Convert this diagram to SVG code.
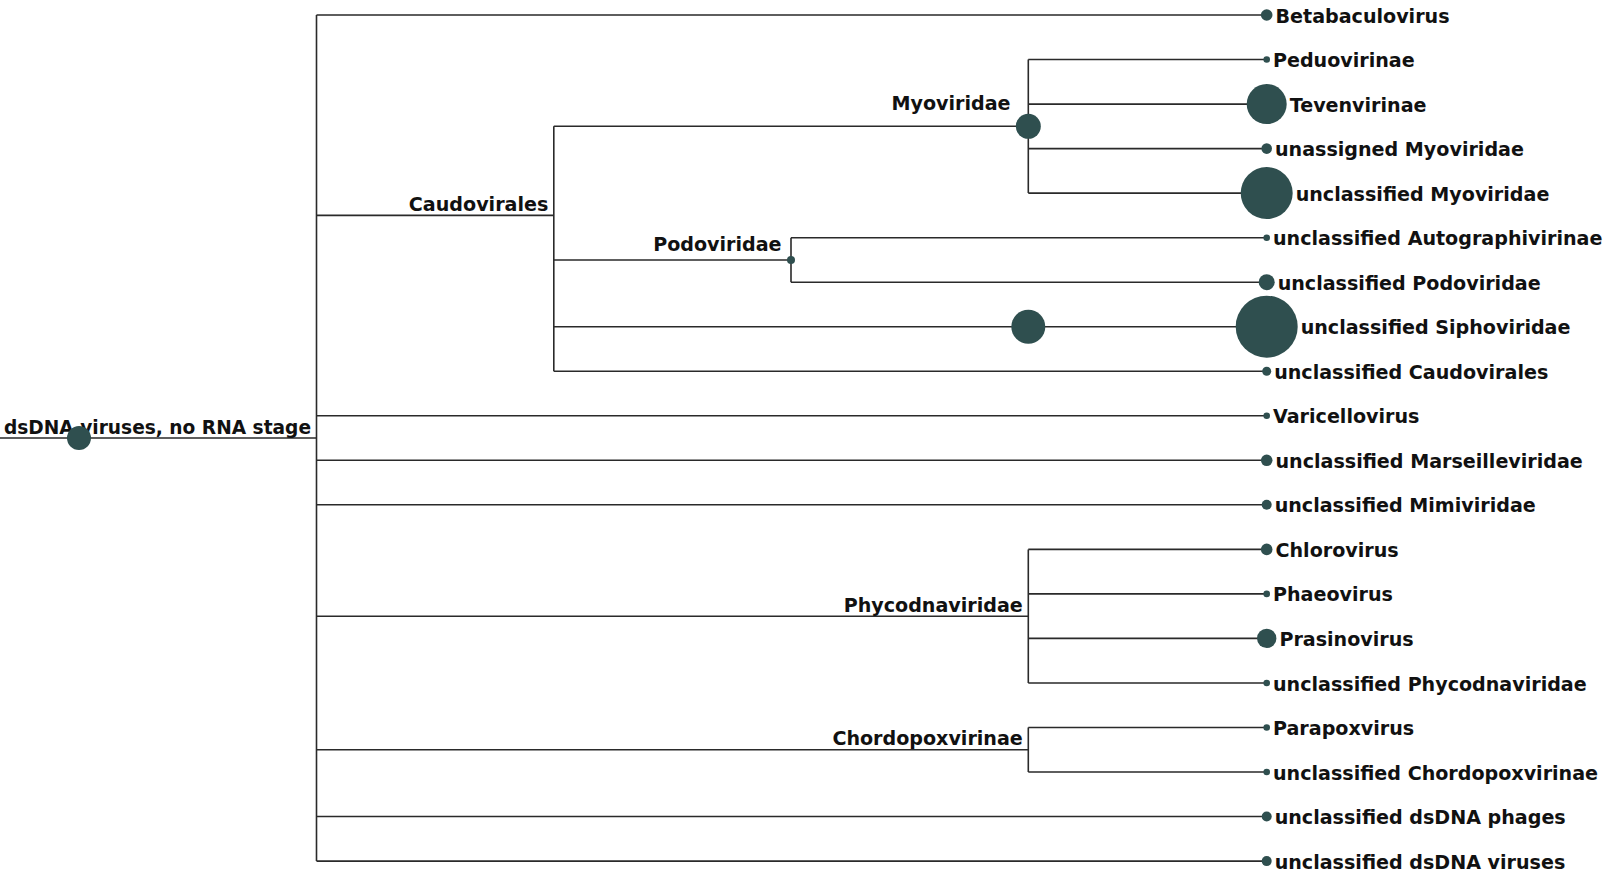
<svg xmlns="http://www.w3.org/2000/svg" width="1607" height="876" viewBox="0 0 1607 876">
<style>
text{font-family:"DejaVu Sans","Verdana",sans-serif;font-weight:bold;font-size:19.1px;fill:#111}
.in{text-anchor:end}
.rt{font-size:18.6px}
.dot{fill:#2f4f4f}
#connectors path{stroke:#2a2a2a;stroke-width:1.6;fill:none}
</style>
<rect width="1607" height="876" fill="#fff"/>
<g id="connectors">
<path d="M0,438H316.5M316.5,15V861.1"/>
<path d="M316.5,15H1266.7M316.5,215.4H553.8M316.5,415.8H1266.7M316.5,460.3H1266.7M316.5,504.8H1266.7M316.5,616.2H1028.3M316.5,749.8H1028.3M316.5,816.5H1266.7M316.5,861.1H1266.7"/>
<path d="M553.8,126.3V371.2M553.8,126.3H1028.3M553.8,260H791M553.8,326.7H1266.7M553.8,371.2H1266.7"/>
<path d="M1028.3,59.5V193.1M1028.3,59.5H1266.7M1028.3,104.1H1266.7M1028.3,148.6H1266.7M1028.3,193.1H1266.7"/>
<path d="M791,237.7V282.2M791,237.7H1266.7M791,282.2H1266.7"/>
<path d="M1028.3,549.4V683M1028.3,549.4H1266.7M1028.3,593.9H1266.7M1028.3,638.4H1266.7M1028.3,683H1266.7"/>
<path d="M1028.3,727.5V772M1028.3,727.5H1266.7M1028.3,772H1266.7"/>
</g>
<g id="root"><text class="in rt" x="311" y="433.5">dsDNA viruses, no RNA stage</text><circle class="dot" cx="79" cy="438" r="12"/></g>
<g id="caudovirales"><text class="in" x="548.3" y="211">Caudovirales</text></g>
<g id="myoviridae"><circle class="dot" cx="1028.3" cy="126.3" r="12.5"/><text class="in" x="1010.5" y="110">Myoviridae</text></g>
<g id="podoviridae"><circle class="dot" cx="791" cy="260" r="4"/><text class="in" x="781.5" y="251">Podoviridae</text></g>
<g id="siphoviridae"><circle class="dot" cx="1028.3" cy="326.7" r="17"/></g>
<g id="phycodnaviridae"><text class="in" x="1022.8" y="611.7">Phycodnaviridae</text></g>
<g id="chordopoxvirinae"><text class="in" x="1022.8" y="745.3">Chordopoxvirinae</text></g>
<g id="betabaculovirus"><circle class="dot" cx="1266.7" cy="15" r="5.8"/><text x="1275.5" y="22.5">Betabaculovirus</text></g>
<g id="peduovirinae"><circle class="dot" cx="1266.7" cy="59.5" r="3.3"/><text x="1273" y="67">Peduovirinae</text></g>
<g id="tevenvirinae"><circle class="dot" cx="1266.7" cy="104.1" r="20"/><text x="1289.7" y="111.6">Tevenvirinae</text></g>
<g id="unassigned-myoviridae"><circle class="dot" cx="1266.7" cy="148.6" r="5.3"/><text x="1275" y="156.1">unassigned Myoviridae</text></g>
<g id="unclassified-myoviridae"><circle class="dot" cx="1266.7" cy="193.1" r="26"/><text x="1295.7" y="200.6">unclassified Myoviridae</text></g>
<g id="unclassified-autographivirinae"><circle class="dot" cx="1266.7" cy="237.7" r="3.3"/><text x="1273" y="245.2">unclassified Autographivirinae</text></g>
<g id="unclassified-podoviridae"><circle class="dot" cx="1266.7" cy="282.2" r="8"/><text x="1277.7" y="289.7">unclassified Podoviridae</text></g>
<g id="unclassified-siphoviridae"><circle class="dot" cx="1266.7" cy="326.7" r="31"/><text x="1300.7" y="334.2">unclassified Siphoviridae</text></g>
<g id="unclassified-caudovirales"><circle class="dot" cx="1266.7" cy="371.2" r="4.5"/><text x="1274.2" y="378.7">unclassified Caudovirales</text></g>
<g id="varicellovirus"><circle class="dot" cx="1266.7" cy="415.8" r="3.3"/><text x="1273" y="423.3">Varicellovirus</text></g>
<g id="unclassified-marseilleviridae"><circle class="dot" cx="1266.7" cy="460.3" r="5.8"/><text x="1275.5" y="467.8">unclassified Marseilleviridae</text></g>
<g id="unclassified-mimiviridae"><circle class="dot" cx="1266.7" cy="504.8" r="5"/><text x="1274.7" y="512.3">unclassified Mimiviridae</text></g>
<g id="chlorovirus"><circle class="dot" cx="1266.7" cy="549.4" r="5.8"/><text x="1275.5" y="556.9">Chlorovirus</text></g>
<g id="phaeovirus"><circle class="dot" cx="1266.7" cy="593.9" r="3.3"/><text x="1273" y="601.4">Phaeovirus</text></g>
<g id="prasinovirus"><circle class="dot" cx="1266.7" cy="638.4" r="9.7"/><text x="1279.4" y="645.9">Prasinovirus</text></g>
<g id="unclassified-phycodnaviridae"><circle class="dot" cx="1266.7" cy="683" r="3.3"/><text x="1273" y="690.5">unclassified Phycodnaviridae</text></g>
<g id="parapoxvirus"><circle class="dot" cx="1266.7" cy="727.5" r="3.3"/><text x="1273" y="735">Parapoxvirus</text></g>
<g id="unclassified-chordopoxvirinae"><circle class="dot" cx="1266.7" cy="772" r="3.3"/><text x="1273" y="779.5">unclassified Chordopoxvirinae</text></g>
<g id="unclassified-dsdna-phages"><circle class="dot" cx="1266.7" cy="816.5" r="5"/><text x="1274.7" y="824">unclassified dsDNA phages</text></g>
<g id="unclassified-dsdna-viruses"><circle class="dot" cx="1266.7" cy="861.1" r="5"/><text x="1274.7" y="868.6">unclassified dsDNA viruses</text></g>
</svg>
